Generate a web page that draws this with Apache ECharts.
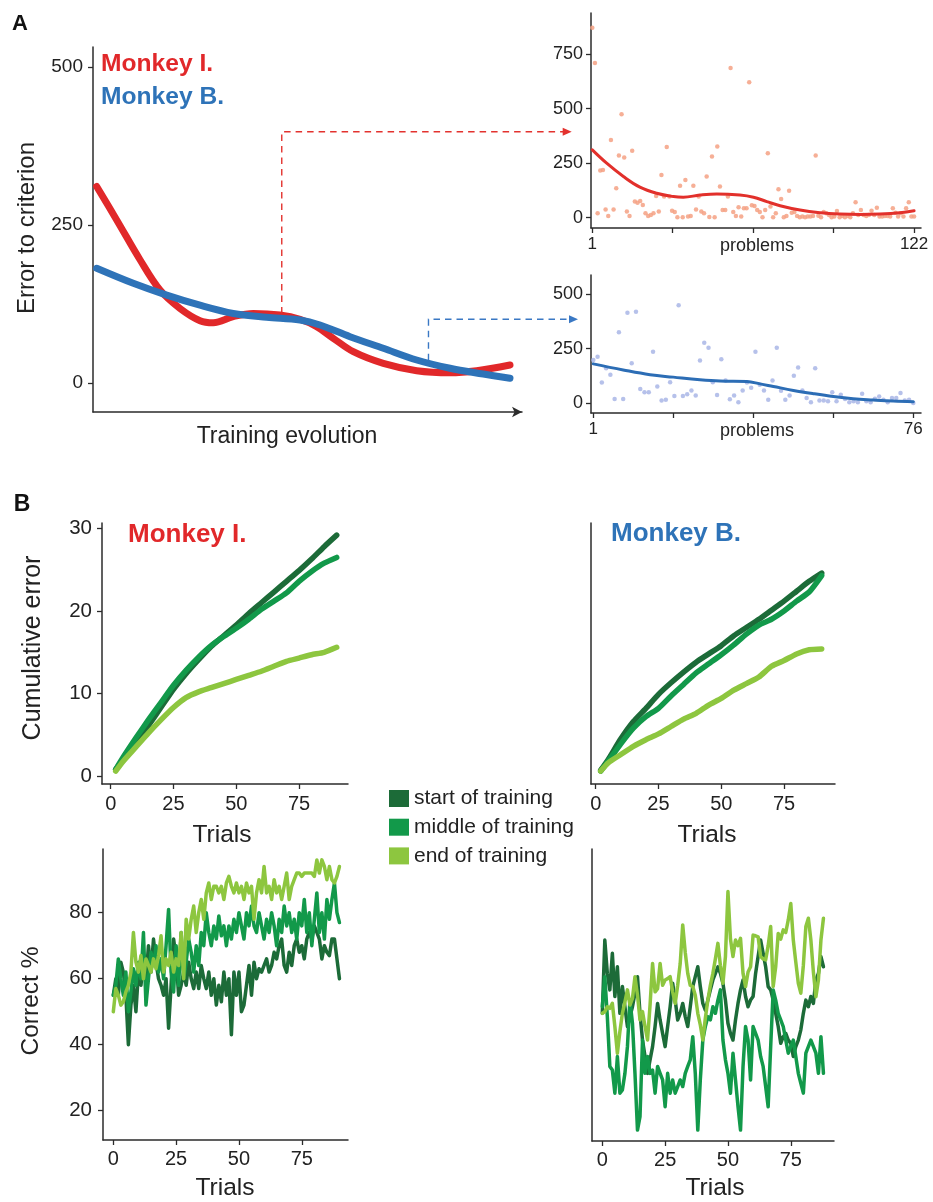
<!DOCTYPE html>
<html><head><meta charset="utf-8">
<script src="https://cdn.jsdelivr.net/npm/echarts@6/dist/echarts.min.js"></script>
<style>html,body{margin:0;padding:0;background:#fff}#c{width:933px;height:1202px}</style>
</head><body><div id="c"></div>
<script>
// ---------------- DATA ----------------
// Panel A (main): smoothed error-to-criterion vs training evolution (0..100 scale)
const trainRedX = [0.86,5.52,10.96,15.62,20.28,24.94,28.04,32.70,37.37,43.59,48.25,52.14,56.01,60.68,67.67,75.45,83.22,89.44,97.20];
const trainRedY = [311,258,195,147,118,98.6,95.4,105,110,107.6,100.8,89,70.7,49.5,31,19.5,16.3,19.5,28.5];
const trainBlueX = [0.86,9.39,17.18,24.94,32.70,40.49,48.25,52.91,59.91,67.67,75.45,83.22,90.98,97.20];
const trainBlueY = [181.5,157.7,139,123,110,104,99.7,91.8,73.3,54.9,36.4,23.3,14.2,7.4];
const mainYTicks = [0,250,500];

// Panel A insets: errors per problem (Monkey I: 122 problems, Monkey B: 76 problems)
const errorsI = [871,710,20,216,219,38,8,357,38,135,285,475,276,28,8,307,74,69,77,58,20,8,12,20,100,28,196,97,324,97,32,26,2,147,2,173,5,8,147,38,97,28,20,189,3,281,2,327,143,35,35,97,687,26,8,48,5,43,43,621,57,54,35,26,2,35,296,51,2,20,130,86,2,8,124,23,26,8,2,5,2,5,5,8,285,9,2,26,20,12,2,5,31,2,8,2,8,2,20,71,12,35,12,8,12,32,12,46,5,5,8,8,5,43,23,5,20,5,43,71,5,5];
const fitIX = [1,6.4,12.7,18.9,25.2,31.5,35.2,41.5,47.8,56.5,61.6,66.6,71.6,79.1,86.6,94.2,101.7,109.2,116.7,122];
const fitIY = [311,250,189,140,112,97,94,104,109,104,94,74,55,35,23,17,15,17,23,32];
const errorsB = [198,213,94,160,130,18,325,18,415,183,419,64,49,49,236,76,11,15,96,32,450,32,40,58,35,195,277,254,96,37,201,104,17,34,3,58,94,70,236,84,58,15,104,254,56,15,34,125,163,58,23,3,160,12,12,8,49,8,38,18,3,8,3,43,8,3,20,30,15,3,23,23,46,12,15,0];
const fitBX = [1,8.0,14.3,19.75,26,30.7,37,40.1,43.2,47.9,52.6,57.25,61.9,66.6,71.3,76];
const fitBY = [180,152,130,119,107,101,99,88,76,58,43,30,20,14,9,6];
const insetYTicks = [0,250,500,750];
const insetIXTicks = [1,31.25,61.5,91.75,122];
const insetIXLabels = [1,122];
const insetBXTicks = [1,19.75,38.5,57.25,76];
const insetBXLabels = [1,76];

// Panel B: cumulative error
const cumTrials = [2,5,10,15,20,25,30,35,40,45,50,55,60,65,70,75,80,85,90];
const cumIStart = [0.8,2.0,4.0,6.1,8.3,10.5,12.4,14.1,15.7,17.0,18.3,19.7,21.0,22.3,23.6,24.9,26.3,27.8,29.2];
const cumIMid   = [0.8,2.3,4.6,6.8,8.9,11.0,12.8,14.4,15.8,16.9,17.9,19.0,20.2,21.2,22.2,23.6,24.8,25.8,26.5];
const cumIEnd   = [0.6,1.8,3.5,5.2,6.8,8.3,9.5,10.2,10.7,11.2,11.7,12.2,12.7,13.3,13.9,14.3,14.7,15.0,15.6];
const cumBStart = [0.7,2.0,4.5,6.6,8.2,9.9,11.3,12.6,13.8,14.8,15.8,17.0,18.0,19.0,20.1,21.2,22.4,23.6,24.6];
const cumBMid   = [0.6,1.8,3.9,5.8,7.2,8.2,9.7,11.1,12.5,13.6,14.7,15.9,17.2,18.3,19.0,20.0,21.2,22.3,24.3];
const cumBEnd   = [0.6,1.6,2.6,3.6,4.4,5.1,6.0,6.9,7.6,8.6,9.4,10.4,11.2,12.0,13.3,14.0,14.8,15.3,15.4];
const cumYTicks = [0,10,20,30];
const trialTicks = [0,25,50,75];

// Panel B: correct % per trial (trial index = position, from 0)
const corIStart = [55,60,55,65,62,55,40,52,58,50, 62,58,65,60,70,62,72,65,60,58, 55,60,45,58,72,66,55,58,62,58, 65,60,57,62,57,64,60,57,62,55, 60,52,58,53,62,55,60,43,62,55, 62,50,52,58,64,55,65,60,63,62, 64,66,62,64,68,66,70,72,64,62, 68,64,70,72,68,70,66,72,74,72, 76,74,72,66,70,68,67,72,72,66, 60];
const corIMid = [55,58,66,60,55,62,50,56,63,58, 65,60,74,52,60,68,64,70,62,66, 60,70,81,62,56,70,58,74,60,65, 72,68,62,70,64,74,70,80,74,70, 76,72,79,73,76,70,76,72,78,74, 80,76,72,80,76,82,76,74,80,76, 72,78,74,80,76,70,78,74,82,76, 80,74,78,72,80,76,84,74,80,70, 78,86,74,80,72,84,78,84,89,80, 77];
const corIEnd = [50,57,55,52,53,56,58,62,74,65, 62,67,60,66,64,62,66,63,67,73, 62,66,64,68,62,66,64,74,60,78, 72,78,82,74,80,84,78,86,89,84, 88,88,86,88,84,89,91,88,86,89, 86,88,84,89,86,88,78,86,90,86, 94,86,88,84,90,86,88,84,88,92, 84,88,90,92,92,91,92,92,92,92, 91,96,92,96,94,90,94,90,89,91, 94];
const corBStart = [49.5,71.7,61.6,56.6,67.7,54.6,63.6,49.5,57.6,51.5, 45.5,48.5,51.5,55.6,60.6,49.5,41.4,36.4,31.3,35.4, 39.4,45.5,52.5,47.5,43.4,39.4,45.5,51.5,58.6,53.5, 47.5,49.5,52.5,48.5,45.5,51.5,57.6,60.6,63.6,57.6, 52.5,50.5,53.5,56.6,59.6,61.6,63.6,61.6,58.6,53.5, 46.5,43.4,41.4,47.5,52.5,56.6,59.6,54.6,51.5,53.5, 54.6,61.6,66.7,71.7,67.7,63.6,57.6,56.6,53.5,49.5, 45.5,40.4,42.4,43.4,41.4,40.4,36.4,39.4,41.4,44.5, 49.5,53.5,51.5,54.6,52.5,59.6,61.6,66.7,63.6];
const corBMid = [51.5,60.6,48.5,33.4,32.3,25.3,36.4,25.3,26.3,31.3, 39.4,53.5,46.5,31.3,14.1,18.2,41.4,31.3,36.4,31.3, 32.3,25.3,33.4,31.3,29.3,21.2,31.3,25.3,29.3,25.3, 27.3,29.3,27.3,31.3,33.4,35.4,42.4,31.3,14.1,29.3, 41.4,45.5,48.5,47.5,51.5,49.5,53.5,56.6,41.4,35.4, 31.3,25.3,37.4,29.3,21.2,14.1,33.4,45.5,41.4,29.3, 45.5,43.4,41.4,36.4,33.4,27.3,21.2,39.4,56.6,53.5, 49.5,47.5,45.5,41.4,37.4,39.4,41.4,36.4,31.3,28.3, 25.3,37.4,39.4,41.4,39.4,37.4,31.3,42.4,31.3];
const corBEnd = [49.5,50,51.5,51,52.5,45.5,37.4,44,49.5,53, 56.6,52,54,60.6,55,47.5,50,45.5,41.4,52, 64.6,56,57,64.6,58,59.6,60,60.6,56,52.5, 58,64.6,76.3,68,61.6,58,57.6,55,49.5,46, 41.4,48,53.5,58,61.6,66,70.7,64,58.6,66.7, 86.4,72,66.7,71.7,70,72.2,61.6,57.6,62,63.6, 73.2,73,72.7,66.7,66,65.7,70,75.8,57.6,63.6, 73.7,72,74.8,74,77.8,82.8,71.7,65,58.6,55.6, 64,75.8,78.3,71.7,62,54.5,59.6,71.7,78.3];
const corYTicks = [20,40,60,80];

const stageNames = ['start of training','middle of training','end of training'];

// ---------------- STYLE ----------------
const FF = '"Liberation Sans", Arial, Helvetica, sans-serif';
const AXC = '#2b2b2b';
const RED = '#e1282a', BLUE = '#2e73b8';
const GREENS = ['#1c6b38','#12994a','#8dc63f'];

function zip(xs, ys){ return ys.map((y,i)=>[xs[i], y]); }
function idx(ys, start){ return ys.map((y,i)=>[i+start, y]); }

function mkAxis(gi, min, max, ticks, labels, fs, margin, extra){
  const a = {gridIndex: gi, type:'value', min:min, max:max, splitLine:{show:false},
    axisLine:{show:true, onZero:false, lineStyle:{color:AXC, width:1.5}},
    axisTick: ticks.length ? {show:true, length:5, customValues:ticks, lineStyle:{color:AXC, width:1.3}} : {show:false},
    axisLabel: labels.length ? {show:true, customValues:labels, fontSize:fs, margin:margin, color:'#222', fontFamily:FF} : {show:false}
  };
  return Object.assign(a, extra || {});
}

const grids = [
  {left:93, top:47, width:429, height:365},
  {left:591, top:13, width:330, height:215},
  {left:591, top:275, width:330, height:138},
  {left:102, top:523, width:246, height:261},
  {left:591, top:523, width:244, height:261},
  {left:103, top:849, width:245, height:291},
  {left:592, top:849, width:242, height:292}
];

const xAxes = [
  mkAxis(0, 0, 100, [], [], 0, 0, {axisLine:{show:true,onZero:false,symbol:['none','arrow'],symbolSize:[8,10],lineStyle:{color:AXC,width:1.5}}}),
  mkAxis(1, 0.51, 124.6, insetIXTicks, insetIXLabels, 17, 8),
  mkAxis(2, 0.46, 77.8, insetBXTicks, insetBXLabels, 17, 8),
  mkAxis(3, -3.46, 94.5, trialTicks, trialTicks, 20, 10),
  mkAxis(4, -1.87, 95.3, trialTicks, trialTicks, 20, 10),
  mkAxis(5, -4.1, 93.4, trialTicks, trialTicks, 20, 9),
  mkAxis(6, -4.1, 92.2, trialTicks, trialTicks, 20, 9)
];
const yAxes = [
  mkAxis(0, -45.9, 531.6, mainYTicks, mainYTicks, 19, 10),
  mkAxis(1, -47.2, 939, insetYTicks, insetYTicks, 18, 8),
  mkAxis(2, -45.9, 588.5, insetYTicks.slice(0,3), insetYTicks.slice(0,3), 18, 8),
  mkAxis(3, -0.97, 30.67, cumYTicks, cumYTicks, 20.5, 10),
  mkAxis(4, -0.97, 30.67, [], []),
  mkAxis(5, 11.12, 99.3, corYTicks, corYTicks, 20.5, 11),
  mkAxis(6, 10.8, 99.3, [], [])
];

function lineS(gi, name, data, color, width, smooth, z){
  return {type:'line', name:name, xAxisIndex:gi, yAxisIndex:gi, data:data, showSymbol:false, symbol:'none',
    smooth:smooth, lineStyle:{color:color, width:width, cap:'round', join:'round'}, itemStyle:{color:color}, z:z||3, silent:true, animation:false};
}
function scatS(gi, data, color){
  return {type:'scatter', xAxisIndex:gi, yAxisIndex:gi, data:data, symbolSize:4.5, itemStyle:{color:color, opacity:0.85}, z:2, silent:true, animation:false};
}

const series = [
  lineS(0, 'Monkey I.', zip(trainRedX, trainRedY), RED, 7, 0.35),
  lineS(0, 'Monkey B.', zip(trainBlueX, trainBlueY), BLUE, 7, 0.35),
  scatS(1, idx(errorsI, 1), '#f4a184'),
  lineS(1, 'fit I', zip(fitIX, fitIY), '#e2302b', 3, 0.4),
  scatS(2, idx(errorsB, 1), '#a9b6e6'),
  lineS(2, 'fit B', zip(fitBX, fitBY), '#2c6db5', 3, 0.4),
  lineS(3, stageNames[0], zip(cumTrials, cumIStart), GREENS[0], 5.5, 0.2),
  lineS(3, stageNames[1], zip(cumTrials, cumIMid), GREENS[1], 5.5, 0.2),
  lineS(3, stageNames[2], zip(cumTrials, cumIEnd), GREENS[2], 5.5, 0.2),
  lineS(4, stageNames[0], zip(cumTrials, cumBStart), GREENS[0], 5.5, 0.2),
  lineS(4, stageNames[1], zip(cumTrials, cumBMid), GREENS[1], 5.5, 0.2),
  lineS(4, stageNames[2], zip(cumTrials, cumBEnd), GREENS[2], 5.5, 0.2),
  lineS(5, stageNames[0], idx(corIStart, 0), GREENS[0], 3.5, false),
  lineS(5, stageNames[1], idx(corIMid, 0), GREENS[1], 3.5, false),
  lineS(5, stageNames[2], idx(corIEnd, 0), GREENS[2], 3.5, false),
  lineS(6, stageNames[0], idx(corBStart, 0), GREENS[0], 3.5, false),
  lineS(6, stageNames[1], idx(corBMid, 0), GREENS[1], 3.5, false),
  lineS(6, stageNames[2], idx(corBEnd, 0), GREENS[2], 3.5, false)
];

const chart = echarts.init(document.getElementById('c'), null, {renderer:'canvas'});
chart.setOption({
  backgroundColor:'#ffffff',
  animation:false,
  grid: grids,
  xAxis: xAxes,
  yAxis: yAxes,
  legend: {data: stageNames, orient:'vertical', left:384, top:783, itemWidth:20, itemHeight:17, itemGap:7.7,
    icon:'rect', selectedMode:false, textStyle:{fontSize:21, color:'#222', fontFamily:FF, lineHeight:21}},
  series: series
});

function txt(s, x, y, size, opt){
  opt = opt || {};
  const font = (opt.bold ? 'bold ' : '') + size + 'px ' + FF;
  return {type:'text', x:x, y:y, rotation: opt.rot || 0, silent:true, z:100,
    style:{text:s, fill: opt.color || '#222', font:font, align: opt.align || 'center', verticalAlign:'middle',
      textAlign: opt.align || 'center', textVerticalAlign:'middle'}};
}

// annotation anchors (data units)
const annRed = {x:44, y:110, top:394};
const annBlue = {x:78.2, y:36, top:385};

const redBot = chart.convertToPixel({gridIndex:0}, [annRed.x, annRed.y]);
const redTop = chart.convertToPixel({gridIndex:1}, [xAxes[1].min, annRed.top]);
const blueBot = chart.convertToPixel({gridIndex:0}, [annBlue.x, annBlue.y]);
const blueTop = chart.convertToPixel({gridIndex:2}, [xAxes[2].min, annBlue.top]);

function arrowEls(bot, top, tipGap, color){
  const tipX = top[0] - tipGap, ty = top[1];
  return [
    {type:'polyline', silent:true, z:50, shape:{points:[[bot[0],bot[1]],[bot[0],ty],[tipX-8,ty]]},
      style:{stroke:color, lineWidth:1.4, lineDash:[6.5,5], fill:null}},
    {type:'polygon', silent:true, z:50, shape:{points:[[tipX,ty],[tipX-9,ty-4],[tipX-9,ty+4]]}, style:{fill:color}}
  ];
}

const graphics = [
  txt('A', 20, 24, 22, {bold:true, color:'#111'}),
  txt('Monkey I.', 101, 64, 24.6, {bold:true, color:RED, align:'left'}),
  txt('Monkey B.', 101, 97, 24.6, {bold:true, color:BLUE, align:'left'}),
  txt('Error to criterion', 27, 228, 24, {rot:Math.PI/2}),
  txt('Training evolution', 287, 437, 23),
  txt('problems', 757, 246, 18),
  txt('problems', 757, 431, 18),
  txt('B', 22, 505, 23, {bold:true, color:'#111'}),
  txt('Monkey I.', 128, 535, 26, {bold:true, color:RED, align:'left'}),
  txt('Monkey B.', 611, 534, 26, {bold:true, color:BLUE, align:'left'}),
  txt('Cumulative error', 33, 648, 25, {rot:Math.PI/2}),
  txt('Trials', 222, 835, 24.5),
  txt('Trials', 707, 835, 24.5),
  txt('Correct %', 31, 1001, 24.5, {rot:Math.PI/2}),
  txt('Trials', 225, 1188, 24.5),
  txt('Trials', 715, 1188, 24.5)
].concat(arrowEls(redBot, redTop, 19.3, '#e3322e'), arrowEls(blueBot, blueTop, 13, '#3a78c4'));

chart.setOption({graphic: graphics});
</script></body></html>
